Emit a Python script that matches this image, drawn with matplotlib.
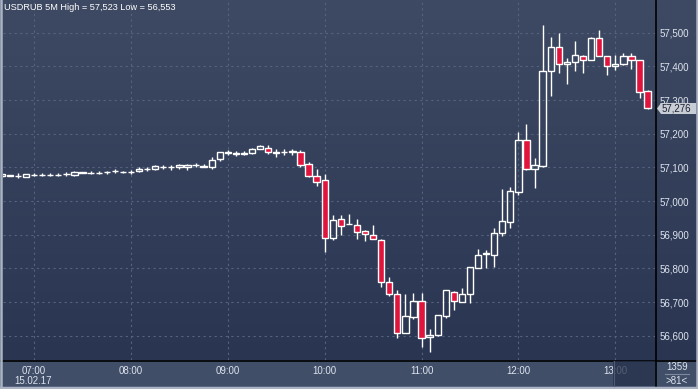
import numpy as np
import pandas as pd
import matplotlib
matplotlib.use("Agg")
import matplotlib.pyplot as plt
import matplotlib.dates as mdates
from matplotlib.lines import Line2D
from matplotlib.patches import Rectangle, Polygon

# USDRUB 5 minute bars, 15.02.17 06:40 .. 13:20
times = pd.date_range("2017-02-15 06:40", periods=81, freq="5min")

opens = [57.073, 57.075, 57.075, 57.072, 57.077, 57.078, 57.077, 57.078, 57.079, 57.077,
         57.084, 57.084, 57.084, 57.085, 57.088, 57.087, 57.086, 57.088, 57.094, 57.094,
         57.101, 57.100, 57.101, 57.101, 57.108, 57.102, 57.102, 57.124, 57.144, 57.141,
         57.141, 57.143, 57.156, 57.159, 57.145, 57.146, 57.147, 57.145, 57.109, 57.075,
         57.062, 56.891, 56.946, 56.931, 56.928, 56.910, 56.899, 56.883, 56.761, 56.723,
         56.609, 56.656, 56.702, 56.595, 56.602, 56.659, 56.729, 56.701, 56.723, 56.802,
         56.842, 56.840, 56.904, 56.939, 57.028, 57.180, 57.094, 57.105, 57.385, 57.457,
         57.407, 57.413, 57.431, 57.419, 57.484, 57.431, 57.400, 57.406, 57.431, 57.419,
         57.327]
highs = [57.080, 57.077, 57.082, 57.080, 57.083, 57.083, 57.082, 57.083, 57.085, 57.088,
         57.086, 57.088, 57.088, 57.089, 57.094, 57.090, 57.092, 57.102, 57.102, 57.108,
         57.106, 57.107, 57.111, 57.109, 57.114, 57.110, 57.130, 57.146, 57.151, 57.148,
         57.149, 57.157, 57.166, 57.166, 57.154, 57.154, 57.154, 57.151, 57.116, 57.094,
         57.080, 56.958, 56.960, 56.961, 56.946, 56.914, 56.929, 56.887, 56.773, 56.736,
         56.724, 56.727, 56.726, 56.620, 56.661, 56.736, 56.734, 56.741, 56.803, 56.859,
         56.854, 56.919, 57.036, 57.041, 57.206, 57.230, 57.127, 57.523, 57.487, 57.499,
         57.426, 57.474, 57.435, 57.487, 57.509, 57.431, 57.435, 57.441, 57.441, 57.419,
         57.330]
lows = [57.072, 57.074, 57.069, 57.071, 57.073, 57.074, 57.073, 57.074, 57.073, 57.075,
        57.083, 57.080, 57.080, 57.081, 57.082, 57.084, 57.079, 57.086, 57.088, 57.092,
        57.096, 57.093, 57.096, 57.093, 57.102, 57.101, 57.096, 57.120, 57.137, 57.135,
        57.136, 57.140, 57.156, 57.140, 57.132, 57.138, 57.137, 57.102, 57.071, 57.045,
        56.850, 56.884, 56.899, 56.931, 56.887, 56.882, 56.886, 56.745, 56.718, 56.594,
        56.609, 56.650, 56.567, 56.553, 56.599, 56.653, 56.676, 56.701, 56.696, 56.802,
        56.802, 56.805, 56.897, 56.921, 57.018, 57.092, 57.040, 57.102, 57.313, 57.379,
        57.348, 57.385, 57.379, 57.419, 57.430, 57.375, 57.388, 57.403, 57.393, 57.307,
        57.274]
closes = [57.079, 57.076, 57.075, 57.079, 57.078, 57.078, 57.077, 57.078, 57.079, 57.086,
          57.085, 57.084, 57.084, 57.085, 57.088, 57.087, 57.086, 57.094, 57.094, 57.104,
          57.101, 57.100, 57.108, 57.106, 57.108, 57.103, 57.121, 57.145, 57.146, 57.143,
          57.143, 57.156, 57.163, 57.146, 57.144, 57.147, 57.149, 57.108, 57.075, 57.057,
          56.891, 56.944, 56.927, 56.931, 56.907, 56.901, 56.886, 56.761, 56.723, 56.607,
          56.660, 56.702, 56.592, 56.602, 56.661, 56.736, 56.704, 56.723, 56.803, 56.841,
          56.846, 56.904, 56.941, 57.030, 57.180, 57.095, 57.106, 57.385, 57.457, 57.406,
          57.412, 57.434, 57.419, 57.484, 57.430, 57.400, 57.407, 57.431, 57.419, 57.324,
          57.276]

price_ticks = [56.6, 56.7, 56.8, 56.9, 57.0, 57.1, 57.2, 57.3, 57.4, 57.5]
title = "USDRUB 5M High = 57,523 Low = 56,553"
last_price = "57,276"
date_label = "15.02.17"

W, H = 698, 389
BG_TOP = "#3e4a63"
BG_BOT = "#2a3552"
PANEL = "#414e68"
TXT = "#dde3ee"
RED = "#e0143c"
GRID = "#56637e"
BORDER = "#aab4c4"
FONT = "Liberation Sans"


def fx(px):
    return px / W


def fy(py):
    return 1 - py / H


fig = plt.figure(figsize=(W / 100, H / 100), dpi=100, facecolor=PANEL)

# gradient background behind plot + price scale
bg = fig.add_axes([0, fy(360), 1, fy(0) - fy(360)])
grad = np.linspace(0, 1, 256).reshape(-1, 1)
cmap = matplotlib.colors.LinearSegmentedColormap.from_list("bg", [BG_TOP, BG_BOT])
bg.imshow(grad, aspect="auto", cmap=cmap, extent=[0, 1, 1, 0])
bg.set_axis_off()

ax = fig.add_axes([fx(3), fy(360), fx(655) - fx(3), fy(0) - fy(360)])
ax.set_facecolor("none")
for s in ax.spines.values():
    s.set_visible(False)

x = mdates.date2num(times)
step = 5 / 1440
w = 0.78 * step

o = np.array(opens)
c = np.array(closes)
hi = np.array(highs)
lo = np.array(lows)
body_lo = np.minimum(o, c)
body_hi = np.maximum(o, c)
up = c >= o

# wicks above and below the body, hollow bodies for rising bars
ax.vlines(x, body_hi, hi, color="white", lw=1.0, zorder=3)
ax.vlines(x, lo, body_lo, color="white", lw=1.0, zorder=3)
ax.bar(x[up], (body_hi - body_lo)[up], bottom=body_lo[up], width=w,
       facecolor="none", edgecolor="white", lw=1.0, zorder=4)
ax.bar(x[~up], (body_hi - body_lo)[~up], bottom=body_lo[~up], width=w,
       facecolor=RED, edgecolor="white", lw=1.0, zorder=4)

ax.set_xlim(x[0] + 0.15 * step, x[-1] + 0.92 * step)
ax.set_ylim(56.528, 57.597)

ax.yaxis.tick_right()
ax.set_yticks(price_ticks)
ax.yaxis.set_major_formatter(lambda v, p: f"{v:.3f}".replace(".", ","))
ax.xaxis.set_major_locator(mdates.HourLocator())
ax.xaxis.set_major_formatter(mdates.DateFormatter("%H:%M"))
ax.tick_params(axis="y", length=0, pad=3, labelsize=7, colors=TXT)
ax.tick_params(axis="x", length=0, pad=4, labelsize=7, colors=TXT)
for t in ax.get_xticklabels() + ax.get_yticklabels():
    t.set_family(FONT)
ax.grid(True, color=GRID, lw=0.8, linestyle=(0, (2, 3)), zorder=0)

# frame lines
fig.add_artist(Line2D([0, 1], [fy(360.5), fy(360.5)], color="black", lw=1.2))
fig.add_artist(Line2D([fx(655.5), fx(655.5)], [fy(0), fy(386)], color="black", lw=1.2))
fig.add_artist(Line2D([0, 1], [fy(387.5), fy(387.5)], color=BORDER, lw=2.5))
fig.add_artist(Line2D([fx(1), fx(1)], [0, 1], color=BORDER, lw=1.8))
fig.add_artist(Line2D([fx(697), fx(697)], [0, 1], color=BORDER, lw=1.8))

fig.text(fx(4), fy(3), title, color="white", fontsize=6.6, family=FONT, va="top")
fig.text(fx(33), fy(381), date_label, color=TXT, fontsize=7, family=FONT,
         ha="center", va="center")

# last price tag
tag = Polygon([(fx(657), fy(108.5)), (fx(661), fy(103)), (fx(696), fy(103)),
               (fx(696), fy(114)), (fx(661), fy(114))], closed=True,
              transform=fig.transFigure, facecolor="#c8ccd4", edgecolor="none", zorder=10)
fig.add_artist(tag)
fig.text(fx(662), fy(108.5), last_price, color="#1c2232", fontsize=7,
         family=FONT, va="center", zorder=11)

# bar counter bottom right
fig.text(fx(677), fy(367), "1359", color=TXT, fontsize=7, family=FONT,
         ha="center", va="center")
fig.add_artist(Line2D([fx(665), fx(689)], [fy(374.3), fy(374.3)], color="#7d889c", lw=0.8))
fig.text(fx(677), fy(380.5), ">81<", color=TXT, fontsize=7, family=FONT,
         ha="center", va="center")

# cursor box over the 13:00 label
fig.add_artist(Rectangle((fx(613), fy(386)), fx(655) - fx(613), fy(361) - fy(386),
                         transform=fig.transFigure, facecolor="#26314a", alpha=0.75,
                         edgecolor="none", zorder=10))
fig.add_artist(Line2D([fx(613.5), fx(613.5)], [fy(361), fy(386)], color="#4f5b73",
                      lw=0.8, zorder=11))

fig.savefig("out.png", dpi=100, facecolor=fig.get_facecolor())
